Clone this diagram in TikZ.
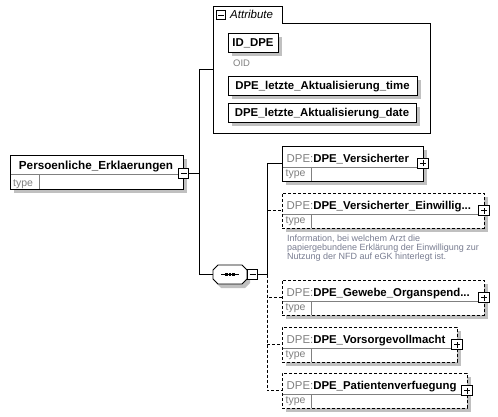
\documentclass[tikz,border=0pt]{standalone}
\usepackage{fontspec}
\setmainfont{Liberation Sans}
\definecolor{shadowgray}{RGB}{192,192,192}
\definecolor{txtgray}{RGB}{128,128,128}
\definecolor{divgray}{RGB}{128,128,128}
\definecolor{descgray}{RGB}{120,124,144}
\tikzset{
  box/.style={draw=black, line width=0.9pt, fill=white, inner sep=0pt, outer sep=0pt, anchor=north west},
  optbox/.style={box, dash pattern=on 3pt off 2pt},
  divline/.style={draw=divgray, line width=0.7pt},
  conn/.style={line width=0.85pt, draw=black},
  optconn/.style={conn, dash pattern=on 3pt off 2pt},
  ttl/.style={font=\fontsize{11.4}{13}\selectfont\bfseries, inner sep=0pt},
  typetxt/.style={font=\fontsize{10.5}{12}\selectfont, text=txtgray, inner sep=0pt, anchor=base west},
  pmbox/.style={draw=black, line width=1.1pt, fill=white, inner sep=0pt, outer sep=0pt},
}
\newcommand\pmicon[5][10.5]{%
  \node[pmbox, minimum size=#1pt] (#2) at (#3,#4) {};
  \draw[line width=0.8pt] ([xshift=-3pt]#2.center) -- ([xshift=3pt]#2.center);
  \ifx#5p\draw[line width=0.8pt] ([yshift=-3pt]#2.center) -- ([yshift=3pt]#2.center);\fi
}
\newcommand\childbox[6]{%
  \fill[shadowgray] (#2+4,#3+4) rectangle (#2+#4+4,#3+39);
  \node[#5, minimum width=#4pt, minimum height=35pt] (#1) at (#2,#3) {};
  \draw[divline] (#2+0.5,#3+21) -- (#2+#4-0.5,#3+21);
  \draw[divline] (#2+29,#3+21) -- (#2+29,#3+34.5);
  \node[ttl, anchor=base west] (#1-t) at (#2+4.5,#3+16) {\textcolor{txtgray}{\mdseries DPE:}#6};
  \node[typetxt] (#1-ty) at (#2+3.5,#3+30.5) {type};
}
\newcommand\attrbox[5]{%
  \fill[shadowgray] (#2+4,#3+4) rectangle (#2+#4+4,#3+23);
  \node[box, minimum width=#4pt, minimum height=19pt] (#1) at (#2,#3) {};
  \node[ttl, anchor=base] (#1-t) at (#2+#4/2,#3+14) {#5};
}
\begin{document}
\begin{tikzpicture}[x=1pt,y=-1pt]
\useasboundingbox (0,0) rectangle (498,417);

% main element
\fill[shadowgray] (14,159) rectangle (187,193);
\node[box, minimum width=173pt, minimum height=34pt] (main) at (10,155) {};
\draw[divline] (10.5,174) -- (182.5,174);
\draw[divline] (39,174) -- (39,188.5);
\node[ttl, font=\fontsize{11.7}{13}\selectfont\bfseries, anchor=base] (maint) at (96,170) {Persoenliche\_Erklaerungen};
\node[typetxt] (mainty) at (13,186) {type};
\pmicon{mainpm}{183.5}{173.5}{m}

% attribute group
\draw[line width=0.9pt, fill=white] (213,133) -- (213,6) -- (282,6) -- (282,23.5) -- (430,23.5) -- (430,133) -- cycle;
\pmicon[9]{attrpm}{221}{15}{m}
\node[font=\fontsize{11.5}{13}\selectfont\itshape, anchor=base west, inner sep=0pt] (attrt) at (230,19) {Attribute};
\attrbox{id}{228}{33}{50}{ID\_DPE}
\node[font=\fontsize{9.5}{11}\selectfont, text=txtgray, anchor=base west, inner sep=0pt] (oid) at (233,67) {OID};
\attrbox{time}{228}{76}{189}{DPE\_letzte\_Aktualisierung\_time}
\attrbox{date}{228}{103}{188}{DPE\_letzte\_Aktualisierung\_date}
\coordinate (attrin) at (213,69);

% sequence compositor
\fill[shadowgray] (221,269) -- (245,269) -- (250,274) -- (250,283) -- (245,288) -- (221,288) -- (216,283) -- (216,274) -- cycle;
\draw[line width=0.9pt, fill=white] (218,265) -- (242,265) -- (247,270) -- (247,279) -- (242,284) -- (218,284) -- (213,279) -- (213,270) -- cycle;
\node[inner sep=0pt, outer sep=0pt, minimum width=34pt, minimum height=19pt] (seq) at (230,274.5) {};
\draw[line width=0.9pt] (221,274.5) -- (239,274.5);
\foreach \d in {226.5,230,233.5} \fill (\d-1.3,273.2) rectangle (\d+1.3,275.8);
\pmicon{seqpm}{252.5}{274.5}{m}

% children
\childbox{c1}{282}{146}{141}{box}{DPE\_Versicherter}
\pmicon{c1pm}{423}{163.5}{p}
\childbox{c2}{282}{193}{202}{optbox}{DPE\_Versicherter\_Einwillig...}
\pmicon{c2pm}{484}{210.5}{p}
\node[font=\fontsize{9}{9}\selectfont, text=descgray, align=left, anchor=north west, inner sep=0pt] (desc) at (287,235)
  {Information, bei welchem Arzt die\\papiergebundene Erklärung der Einwilligung zur\\Nutzung der NFD auf eGK hinterlegt ist.};
\childbox{c3}{282}{280}{202}{optbox}{DPE\_Gewebe\_Organspend...}
\pmicon{c3pm}{484}{297.5}{p}
\childbox{c4}{282}{327}{175}{optbox}{DPE\_Vorsorgevollmacht}
\pmicon{c4pm}{457}{344.5}{p}
\childbox{c5}{282}{373}{185}{optbox}{DPE\_Patientenverfuegung}
\pmicon{c5pm}{467}{390.5}{p}

% connectors
\coordinate (jtop) at (199,69);
\coordinate (jbot) at (199,274.5);
\coordinate (cj) at (267,274.5);
\draw[conn] (mainpm.east) -- (mainpm.east -| jtop);
\draw[conn] (attrin) -- (jtop) -- (jbot) -- (seq.west);
\draw[conn] (seqpm.east) -- (cj);
\draw[optconn] (cj) |- (c2.west);
\draw[optconn] (cj) |- (c3.west);
\draw[optconn] (cj) |- (c4.west);
\draw[optconn] (cj) |- (c5.west);
\draw[conn] (cj) |- (c1.west);
\end{tikzpicture}
\end{document}
